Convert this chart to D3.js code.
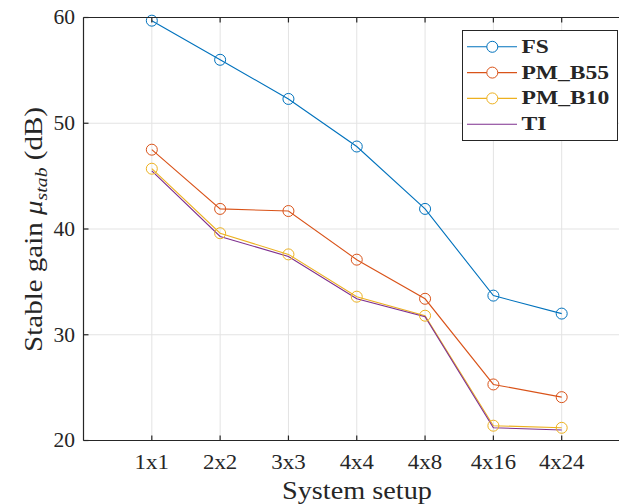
<!DOCTYPE html>
<html><head><meta charset="utf-8">
<script src="https://cdn.jsdelivr.net/npm/d3@7"></script>
<style>body{margin:0;background:#fff}svg{display:block}text{font-family:"Liberation Serif","DejaVu Serif",serif;fill:#262626}</style>
</head><body><svg id="c" width="619" height="504"></svg>
<script>
const categories = ["1x1","2x2","3x3","4x4","4x8","4x16","4x24"];
const yTicks = [20,30,40,50,60];
const seriesNames = ["FS","PM_B55","PM_B10","TI"];
const FS     = [59.7,56.0,52.3,47.8,41.9,33.7,32.0];
const PM_B55 = [47.5,41.9,41.7,37.1,33.4,25.3,24.1];
const PM_B10 = [45.7,39.6,37.6,33.6,31.8,21.4,21.2];
const TI     = [45.5,39.3,37.4,33.4,31.7,21.2,21.0];
const colors = ["#0072BD","#D95319","#EDB120","#7E2F8E"];
const markers = [true,true,true,false];
const allSeries = [FS,PM_B55,PM_B10,TI];

const svg = d3.select("#c");
const L=83.5, R=630, T=17.5, B=440.5;
const x = d3.scaleLinear().domain([0,categories.length+1]).range([L,R]);
const y = d3.scaleLinear().domain([20,60]).range([B,T]);

// horizontally stretch a text element to a target width around an anchor x
function fitWidth(sel, target, ax, ay){
  const w = sel.node().getBBox().width;
  const s = target / w;
  sel.attr("transform", `translate(${ax},${ay}) scale(${s},1) translate(${-ax},${-ay})`);
}

const g = svg.append("g");
// grid
g.selectAll(".gx").data(categories).enter().append("line")
 .attr("x1",(d,i)=>x(i+1)).attr("x2",(d,i)=>x(i+1)).attr("y1",T).attr("y2",B)
 .attr("stroke","#e3e3e3").attr("stroke-width",1);
g.selectAll(".gy").data(yTicks).enter().append("line")
 .attr("x1",L).attr("x2",R).attr("y1",d=>y(d)).attr("y2",d=>y(d))
 .attr("stroke","#e3e3e3").attr("stroke-width",1);
// series
const line = d3.line().x((d,i)=>x(i+1)).y(d=>y(d));
allSeries.forEach((s,k)=>{
  g.append("path").datum(s).attr("d",line).attr("fill","none")
   .attr("stroke",colors[k]).attr("stroke-width",1.1);
});
allSeries.forEach((s,k)=>{
  if(!markers[k]) return;
  g.selectAll(".m"+k).data(s).enter().append("circle")
   .attr("cx",(d,i)=>x(i+1)).attr("cy",d=>y(d)).attr("r",5.5)
   .attr("fill","none").attr("stroke",colors[k]).attr("stroke-width",1);
});
// axes box
const ax = svg.append("g").attr("stroke","#262626").attr("stroke-width",1.2);
ax.append("line").attr("x1",L).attr("x2",R).attr("y1",B).attr("y2",B);
ax.append("line").attr("x1",L).attr("x2",R).attr("y1",T).attr("y2",T);
ax.append("line").attr("x1",L).attr("x2",L).attr("y1",T).attr("y2",B);
categories.forEach((c,i)=>{
  ax.append("line").attr("x1",x(i+1)).attr("x2",x(i+1)).attr("y1",B).attr("y2",B-5);
  ax.append("line").attr("x1",x(i+1)).attr("x2",x(i+1)).attr("y1",T).attr("y2",T+5);
});
yTicks.forEach(t=>{
  ax.append("line").attr("x1",L).attr("x2",L+5).attr("y1",y(t)).attr("y2",y(t));
});
// tick labels
svg.selectAll(".xt").data(categories).enter().append("text")
 .attr("x",(d,i)=>x(i+1)).attr("y",469).attr("text-anchor","middle")
 .attr("font-size",21.5).text(d=>d)
 .each(function(d){ const s=d3.select(this); fitWidth(s, d.length*11.3+0.5, +s.attr("x"), 469); });
svg.selectAll(".yt").data(yTicks).enter().append("text")
 .attr("x",75).attr("y",d=>y(d)+6.8).attr("text-anchor","end")
 .attr("font-size",21.5).text(d=>d);
// axis labels
const xl = svg.append("text").attr("x",357).attr("y",499).attr("text-anchor","middle")
 .attr("font-size",25).text("System setup");
fitWidth(xl,150,357,499);
const ylg = svg.append("g").attr("transform","translate(42,229.5) rotate(-90)");
const yl = ylg.append("text").attr("x",0).attr("y",0)
 .attr("text-anchor","middle").attr("font-size",25);
yl.append("tspan").text("Stable gain ");
yl.append("tspan").attr("font-style","italic").text("μ");
yl.append("tspan").attr("font-style","italic").attr("font-size",17).attr("dy",5).text("stab");
yl.append("tspan").attr("dy",-5).text(" (dB)");
fitWidth(yl,245,0,0);
// legend
const lg = svg.append("g");
lg.append("rect").attr("x",462.5).attr("y",30.5).attr("width",155).attr("height",110)
 .attr("fill","#fff").attr("stroke","#262626").attr("stroke-width",1);
const legendWidths = [27.5,88,88,25];
seriesNames.forEach((n,k)=>{
  const ry = 46.8 + k*25.8;
  lg.append("line").attr("x1",467).attr("x2",517).attr("y1",ry).attr("y2",ry)
   .attr("stroke",colors[k]).attr("stroke-width",1.1);
  if(markers[k]) lg.append("circle").attr("cx",492.3).attr("cy",ry).attr("r",5.5)
   .attr("fill","#fff").attr("stroke",colors[k]).attr("stroke-width",1);
  const t = lg.append("text").attr("x",521.5).attr("y",ry+6).attr("font-size",19.5)
   .attr("font-weight","bold").text(n);
  fitWidth(t, legendWidths[k], 521.5, ry+6);
});
</script></body></html>
